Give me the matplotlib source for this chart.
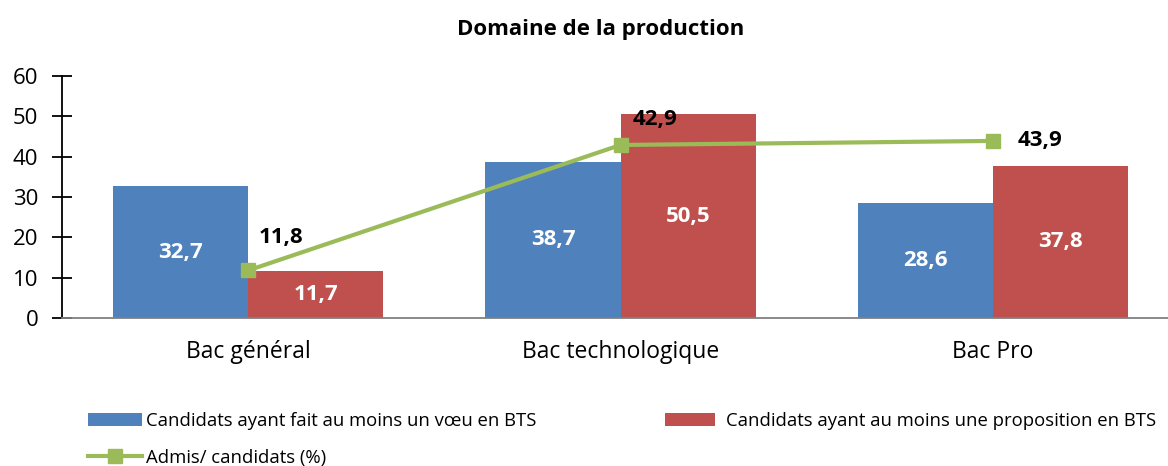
import matplotlib.pyplot as plt
import numpy as np

# data
categories = ['Bac général', 'Bac technologique', 'Bac Pro']
voeu_bts = [32.7, 38.7, 28.6]
proposition_bts = [11.7, 50.5, 37.8]
admis = [11.8, 42.9, 43.9]

plt.rcParams['font.family'] = ['Open Sans', 'DejaVu Sans']

blue = '#4F81BD'
red = '#C0504D'
green = '#9BBB59'

fig = plt.figure(figsize=(11.68, 4.66), dpi=100)
ax = fig.add_axes([62 / 1168, 1 - 318 / 466, 1 - 62 / 1168, (318 - 76) / 466])

x = np.arange(len(categories))
w = 0.363
b1 = ax.bar(x - w / 2, voeu_bts, w, color=blue, label='Candidats ayant fait au moins un vœu en BTS')
b2 = ax.bar(x + w / 2, proposition_bts, w, color=red, label='Candidats ayant au moins une proposition en BTS')
ln, = ax.plot(x, admis, color=green, lw=3, marker='s', markersize=10,
              label='Admis/ candidats (%)')

for bars in (b1, b2):
    ax.bar_label(bars, labels=[f'{v:.1f}'.replace('.', ',') for v in bars.datavalues],
                 label_type='center', color='white', fontsize=16, fontweight='bold')

offsets = [(33, 33), (34, 25), (47, 0)]
for xi, v, off in zip(x, admis, offsets):
    ax.annotate(f'{v:.1f}'.replace('.', ','), (xi, v), xytext=off, textcoords='offset pixels',
                ha='center', va='center', fontsize=16, fontweight='bold', color='black')

ax.set_xlim(-0.5, 2.47)
ax.set_ylim(0, 60)
ax.set_yticks(range(0, 61, 10))
ax.set_xticks(x)
ax.set_xticklabels(categories)
ax.tick_params(axis='y', direction='inout', length=14, width=1.3, labelsize=16, pad=10)
ax.tick_params(axis='x', length=0, labelsize=16.5, pad=16)
for s in ('top', 'right'):
    ax.spines[s].set_visible(False)
ax.spines['left'].set_linewidth(1.3)
ax.spines['bottom'].set_color('#808080')
ax.spines['bottom'].set_linewidth(1.3)

fig.text(601 / 1168, 1 - 30 / 466, 'Domaine de la production', ha='center', va='center',
         fontsize=16, fontweight='bold')

leg1 = fig.legend(handles=[b1, ln], loc='upper left', bbox_to_anchor=(81 / 1168, 1 - 405 / 466),
                  frameon=False, fontsize=13.3, handlelength=2.9, handletextpad=0.2,
                  labelspacing=1.0, borderaxespad=0)
leg2 = fig.legend(handles=[b2], loc='upper left', bbox_to_anchor=(658 / 1168, 1 - 405 / 466),
                  frameon=False, fontsize=13.3, handlelength=2.7, handletextpad=0.6, borderaxespad=0)

fig.savefig('out.png', dpi=100)
